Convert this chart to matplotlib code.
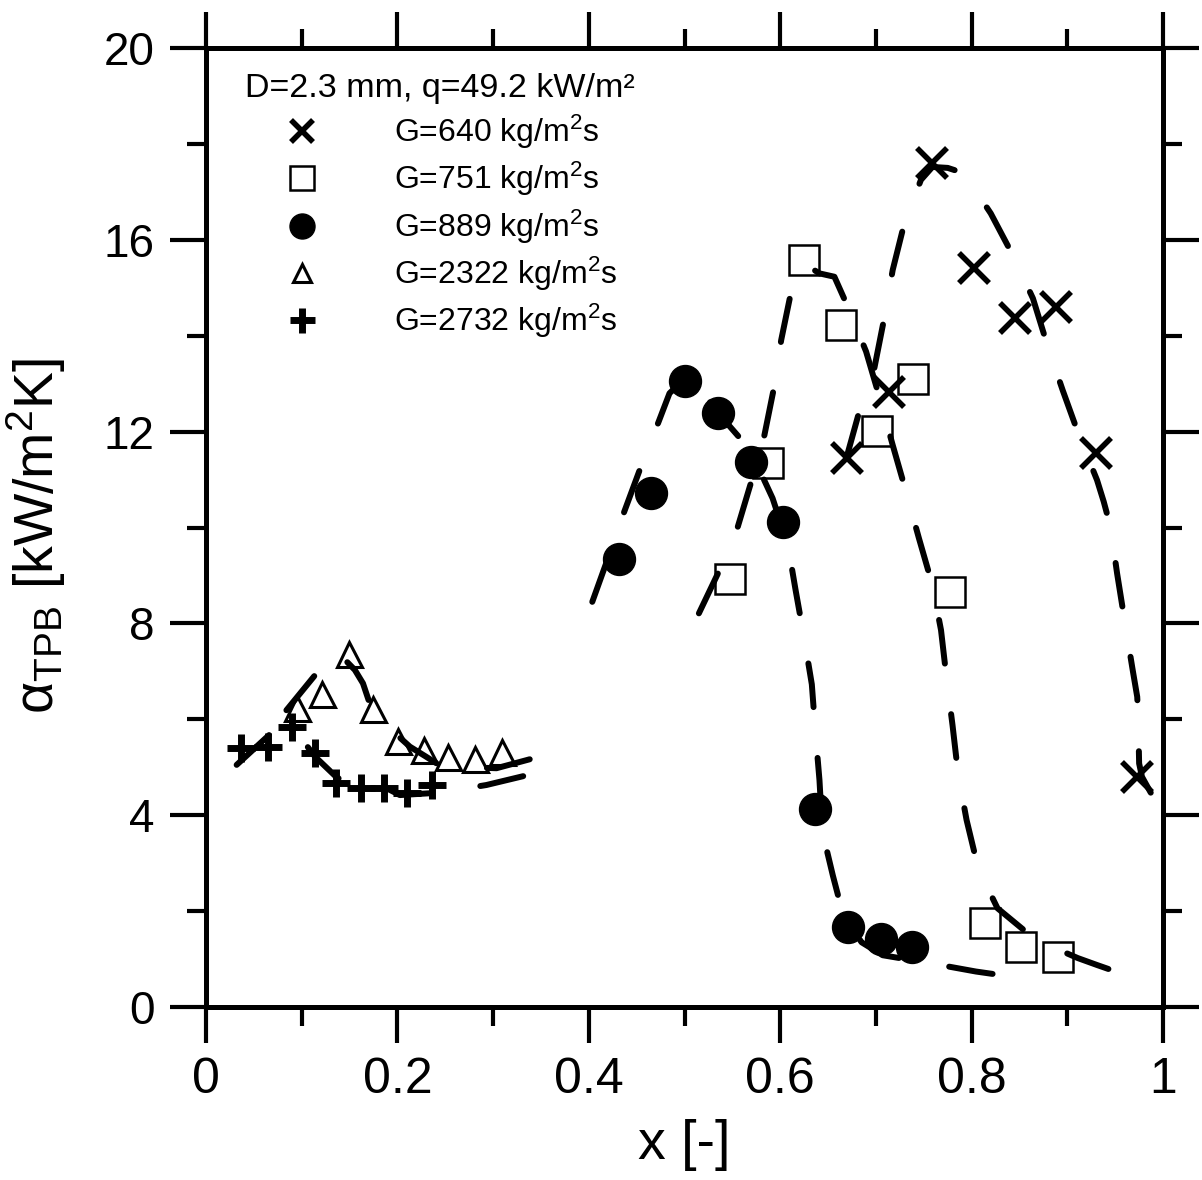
import matplotlib
matplotlib.use("Agg")
import matplotlib.pyplot as plt
from matplotlib.lines import Line2D
from matplotlib.ticker import MultipleLocator

# --- measured points (x [-], alpha [kW/m2K]) ---
x640 = [0.670, 0.714, 0.759, 0.802, 0.845, 0.888, 0.930, 0.973]
y640 = [11.44, 12.83, 17.60, 15.41, 14.36, 14.60, 11.56, 4.80]

x751 = [0.548, 0.587, 0.625, 0.664, 0.701, 0.739, 0.777, 0.814, 0.852, 0.890]
y751 = [8.92, 11.35, 15.58, 14.22, 12.01, 13.09, 8.65, 1.75, 1.26, 1.05]

x889 = [0.431, 0.465, 0.501, 0.535, 0.569, 0.603, 0.636, 0.671, 0.705, 0.738]
y889 = [9.34, 10.73, 13.06, 12.39, 11.36, 10.12, 4.13, 1.67, 1.41, 1.26]

x2322 = [0.095, 0.121, 0.149, 0.174, 0.201, 0.228, 0.253, 0.281, 0.309]
y2322 = [6.23, 6.52, 7.36, 6.21, 5.55, 5.35, 5.22, 5.17, 5.31]

x2732 = [0.037, 0.065, 0.090, 0.114, 0.136, 0.162, 0.186, 0.210, 0.236]
y2732 = [5.40, 5.43, 5.85, 5.29, 4.67, 4.56, 4.56, 4.46, 4.63]

# --- model curves (dashed) ---
m640_x = [0.669, 0.683, 0.698, 0.709, 0.7175, 0.7296, 0.747, 0.759, 0.775, 0.792,
          0.820, 0.843, 0.864, 0.879, 0.895, 0.912, 0.931, 0.938, 0.945, 0.952,
          0.960, 0.968, 0.973, 0.974, 0.975, 0.978, 0.996]
m640_y = [11.44, 12.45, 13.29, 14.40, 15.37, 16.34, 17.25, 17.52, 17.50, 17.39,
          16.55, 15.68, 14.78, 13.81, 12.87, 11.93, 10.99, 10.54, 10.02, 9.04,
          8.04, 7.06, 6.47, 6.05, 5.08, 4.80, 4.15]

m751_x = [0.515, 0.5365, 0.5557, 0.5713, 0.5835, 0.594, 0.601, 0.6114, 0.625, 0.641,
          0.6566, 0.672, 0.6897, 0.7035, 0.7175, 0.7314, 0.745, 0.759, 0.768, 0.774,
          0.780, 0.786, 0.7947, 0.807, 0.827, 0.867, 0.911, 0.931, 0.961]
m751_y = [8.21, 9.11, 10.02, 11.06, 11.93, 12.97, 13.91, 14.92, 15.50, 15.30,
          15.23, 14.54, 13.67, 12.73, 11.72, 10.75, 9.77, 8.80, 7.86, 6.82,
          5.88, 4.84, 3.90, 2.88, 2.06, 1.40, 1.02, 0.876, 0.667]

m889_x = [0.4036, 0.418, 0.437, 0.455, 0.473, 0.4843, 0.505, 0.535, 0.5686, 0.592,
          0.608, 0.616, 0.6253, 0.633, 0.637, 0.641, 0.644, 0.655, 0.666, 0.685,
          0.707, 0.7575, 0.8045, 0.829]
m889_y = [8.45, 9.25, 10.33, 11.30, 12.21, 12.80, 13.20, 12.39, 11.62, 10.61,
          9.64, 8.70, 7.66, 6.73, 5.67, 4.73, 3.66, 2.74, 1.90, 1.35,
          1.08, 0.91, 0.74, 0.67]

m2322_x = [0.084, 0.1155, 0.135, 0.1555, 0.164, 0.1746, 0.213, 0.230, 0.241, 0.258, 0.3035, 0.3556]
m2322_y = [6.19, 6.96, 7.45, 7.03, 6.75, 6.12, 5.43, 5.22, 5.08, 5.01, 4.98, 5.26]

m2732_x = [0.032, 0.0696, 0.090, 0.114, 0.136, 0.150, 0.189, 0.2025, 0.244, 0.293, 0.343]
m2732_y = [5.05, 5.74, 5.85, 5.22, 4.80, 4.63, 4.56, 4.42, 4.47, 4.63, 4.87]

labels = ["G=640 kg/m$^2$s", "G=751 kg/m$^2$s", "G=889 kg/m$^2$s",
          "G=2322 kg/m$^2$s", "G=2732 kg/m$^2$s"]
header = "D=2.3 mm, q=49.2 kW/m\u00b2"
xtick_labels = ["0", "0.2", "0.4", "0.6", "0.8", "1"]
ytick_labels = ["0", "4", "8", "12", "16", "20"]

plt.rcParams["font.family"] = ["Liberation Sans", "DejaVu Sans"]
plt.rcParams["mathtext.fontset"] = "custom"
plt.rcParams["mathtext.rm"] = "Liberation Sans"
plt.rcParams["mathtext.it"] = "Liberation Sans:italic"
plt.rcParams["mathtext.default"] = "regular"
plt.rcParams["lines.scale_dashes"] = False

fig = plt.figure(figsize=(12.02, 11.8), dpi=100)
ax = fig.add_axes([0.1714, 0.1466, 0.7962, 0.8127])

dash = (31.7, 36.7)
for mx, my in [(m640_x, m640_y), (m751_x, m751_y), (m889_x, m889_y),
               (m2322_x, m2322_y), (m2732_x, m2732_y)]:
    ax.plot(mx, my, color="k", lw=4.3, dashes=dash, dash_capstyle="round",
            solid_capstyle="round", zorder=2)

ax.plot(x640, y640, ls="none", marker="x", ms=21, mew=4, color="k", zorder=3)
ax.plot(x751, y751, ls="none", marker="s", ms=21, mfc="none", mec="k", mew=1.8, zorder=3)
ax.plot(x889, y889, ls="none", marker="o", ms=23, color="k", zorder=3)
ax.plot(x2322, y2322, ls="none", marker="^", ms=18, mfc="none", mec="k", mew=2.2, zorder=3)
ax.plot(x2732, y2732, ls="none", marker="+", ms=20, mew=5, color="k", zorder=3)

handles = [
    Line2D([], [], ls="none", marker="x", ms=16, mew=4, color="k"),
    Line2D([], [], ls="none", marker="s", ms=17, mfc="none", mec="k", mew=1.8),
    Line2D([], [], ls="none", marker="o", ms=18, color="k"),
    Line2D([], [], ls="none", marker="^", ms=13, mfc="none", mec="k", mew=2.2),
    Line2D([], [], ls="none", marker="+", ms=18, mew=5, color="k"),
]
ax.legend(handles, labels, title=header, title_fontsize=24.5, fontsize=23,
          loc="upper left", bbox_to_anchor=(0.0408, 0.974), frameon=False,
          borderpad=0, borderaxespad=0, handlelength=3.55, handletextpad=1.1,
          labelspacing=0.28, alignment="left")

ax.set_xlim(0, 1)
ax.set_ylim(0, 20)
ax.set_xticks([0, 0.2, 0.4, 0.6, 0.8, 1.0])
ax.set_xticklabels(xtick_labels)
ax.set_yticks([0, 4, 8, 12, 16, 20])
ax.set_yticklabels(ytick_labels)
ax.xaxis.set_minor_locator(MultipleLocator(0.1))
ax.yaxis.set_minor_locator(MultipleLocator(2))

for s in ax.spines.values():
    s.set_linewidth(3.6)
ax.tick_params(which="both", direction="out", top=True, right=True, width=3)
ax.tick_params(which="major", length=26)
ax.tick_params(which="minor", length=14)
ax.tick_params(axis="x", labelsize=36, pad=10)
ax.tick_params(axis="y", labelsize=33, pad=11)

ax.set_xlabel("x [-]", fontsize=40)
ax.set_ylabel(r"$\alpha_{TPB}$ [kW/m$^2$K]", fontsize=40)
ax.xaxis.set_label_coords(0.5, -0.117)
ax.yaxis.set_label_coords(-0.144, 0.491)

plt.savefig("out.png", dpi=100)
